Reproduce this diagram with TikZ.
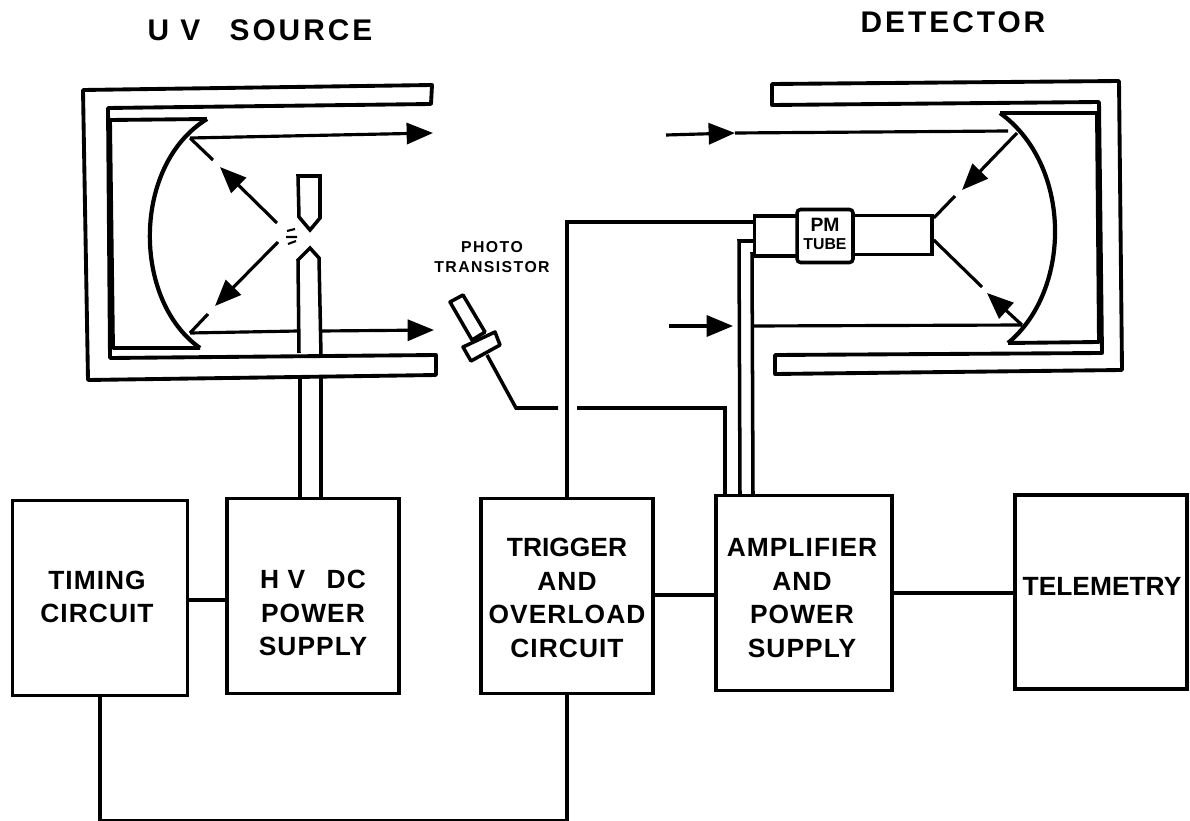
\documentclass[tikz,border=0pt]{standalone}
\usepackage{fontspec}
\setmainfont{Liberation Sans}
\usetikzlibrary{arrows.meta}
\begin{document}
\begin{tikzpicture}[
        x=0.02cm, y=-0.02cm,
        every node/.style={font=\bfseries},
        blockbox/.style={rectangle, draw=black, line width=2.2pt, fill=white, minimum width=3.45cm, minimum height=3.9cm, inner sep=0pt},
        blocktext/.style={align=center, inner sep=0pt, font=\fontsize{15}{19.2}\bfseries\addfontfeature{LetterSpace=4}},
        titletext/.style={inner sep=0pt, font=\fontsize{17}{20}\bfseries\addfontfeature{LetterSpace=10}},
        smalltext/.style={align=center, inner sep=0pt, font=\fontsize{9}{11.3}\bfseries\addfontfeature{LetterSpace=9}},
        wall/.style={draw=black, line width=2.2pt, line join=round},
        wire/.style={draw=black, line width=2pt},
        ray/.style={draw=black, line width=1.8pt},
        arrow/.style={ray, -{Triangle[length=15pt,width=12pt]}}
        ]
        \useasboundingbox (0,0) rectangle (1190,821);

        % Titles
        \node[titletext] (uvtitle) at (260,30) {U V\hspace{0.6em} SOURCE};
        \node[titletext] (dettitle) at (953,22) {DETECTOR};

        % Block row
        \node[blockbox, minimum width=3.5cm] (timing) at (100,598) {};
        \node[blockbox] (hv) at (313,596) {};
        \node[blockbox] (trig) at (567,596) {};
        \node[blockbox, minimum width=3.53cm] (amp) at (804,593) {};
        \node[blockbox, minimum height=3.88cm] (tele) at (1101,592) {};
        \node[blocktext] (timingtext) at (97,597) {TIMING\\CIRCUIT};
        \node[blocktext] (hvtext) at (313,613) {H V\hspace{0.5em} DC\\POWER\\SUPPLY};
        \node[blocktext] (trigtext) at (567,598) {{\addfontfeature{LetterSpace=0}TRIGGER}\\AND\\OVERLOAD\\CIRCUIT};
        \node[blocktext] (amptext) at (802,598) {AMPLIFIER\\AND\\POWER\\SUPPLY};
        \node[blocktext, font=\fontsize{15}{19}\bfseries] (teletext) at (1102,586) {TELEMETRY};

        % Block connections
        \draw[wire] (timing.east |- 0,600) -- (hv.west |- 0,600);
        \draw[wire] (trig.east |- 0,595) -- (amp.west |- 0,595);
        \draw[wire] (amp.east) -- (amp.east -| tele.west);
        \draw[wire] (timing.south) -- ++(0,123) -| (trig.south);

        % Source housing and mirror
        \draw[wall] (432,85) -- (83,90) -- (88,380) -- (436,375) -- (436,355) -- (110,358) -- (108,108) -- (431,104) -- cycle;
        \draw[wall] (207,119) -- (110,120) -- (113,348) -- (200,348);
        \draw[wall, line width=2.4pt] (207,119) .. controls (132,165) and (132,300) .. (200,348);

        % Electrode
        \draw[wire] (300,378) -- (300,499);
        \draw[wire] (321,378) -- (321,499);
        \draw[wire] (299,353) -- (298,260) -- (310,248) -- (319,258) -- (321,355);
        \draw[wire] (299,217) -- (298,176) -- (320,176) -- (320,218) -- (310,230) -- cycle;
        \draw[ray, line width=1.2pt] (287,231) -- (295,229) (286,237) -- (297,237) (288,244) -- (296,241);

        % Source rays
        \coordinate (srchit) at (190,138);
        \coordinate (srclow) at (190,333);
        \draw[arrow] (srchit) -- (433,133);
        \draw[ray] (srclow) -- (298,331);
        \draw[arrow] (321,331) -- (434,330);
        \draw[arrow] (277,223) -- (220,167);
        \draw[ray] (213,160) -- (srchit);
        \draw[arrow] (278,242) -- (215,306);
        \draw[ray] (208,314) -- (srclow);

        % Detector housing and mirror
        \draw[wall] (772,84) -- (1119,81) -- (1122,370) -- (775,374) -- (775,355) -- (1102,353) -- (1099,102) -- (772,105) -- cycle;
        \draw[wall] (1000,113) -- (1097,113) -- (1099,342) -- (1008,343);
        \draw[wall, line width=2.4pt] (1000,113) .. controls (1072,165) and (1072,290) .. (1008,343);

        % PM tube
        \node[draw=black, line width=2pt, minimum width=1.14cm, minimum height=0.8cm, inner sep=0pt] (pmcap) at (783,236) {};
        \node[draw=black, line width=2pt, minimum width=1.6cm, minimum height=0.78cm, inner sep=0pt] (pmbody) at (892,235) {};
        \node[draw=black, line width=2pt, fill=white, rounded corners=2pt, minimum width=1.12cm, minimum height=1.06cm, inner sep=0pt] (pmbox) at (825,236) {};
        \node[smalltext, font=\fontsize{11}{10}\bfseries] (pmtext) at (825,234) {PM\\[0.5pt]{\fontsize{9}{10}\bfseries TUBE}};

        % Detector rays
        \coordinate (dethit) at (1017,133);
        \coordinate (detlow) at (1022,325);
        \coordinate (detin) at (1008,131);
        \draw[arrow] (666,135) -- (735,133);
        \draw[ray] (735,133) -- (detin);
        \draw[arrow] (669,326) -- (733,326);
        \draw[ray] (752,326) -- (detlow);
        \draw[arrow] (dethit) -- (962,190);
        \draw[ray] (955,196) -- (pmbody.east |- 0,218);
        \draw[arrow] (detlow) -- (987,293);
        \draw[ray] (982,287) -- (pmbody.east |- 0,240);

        % Photo transistor
        \node[smalltext] (phototext) at (492,257) {PHOTO\\TRANSISTOR};
        \draw[wire, line join=round] (450,302) -- (463,295) -- (485,332) -- (472,340) -- cycle;
        \draw[wire, line join=round, fill=white] (463,347) -- (495,332) -- (500,345) -- (471,361) -- cycle;
        \coordinate (photobase) at (487,355);
        \draw[wire] (photobase) -- (516,408) -- (558,408);
        \draw[wire] (577,408) -- (725,408) -- (725,408 |- amp.north);

        % Tube leads
        \draw[wire] (trig.north) -- (trig.north |- 0,222) -- (pmcap.west |- 0,222);
        \draw[wire] (740,495) -- (739,241) -- (pmcap.west |- 0,241);
        \draw[wire] (753,495) -- (752,254) -- (pmcap.west |- 0,254);

    \end{tikzpicture}
\end{document}
